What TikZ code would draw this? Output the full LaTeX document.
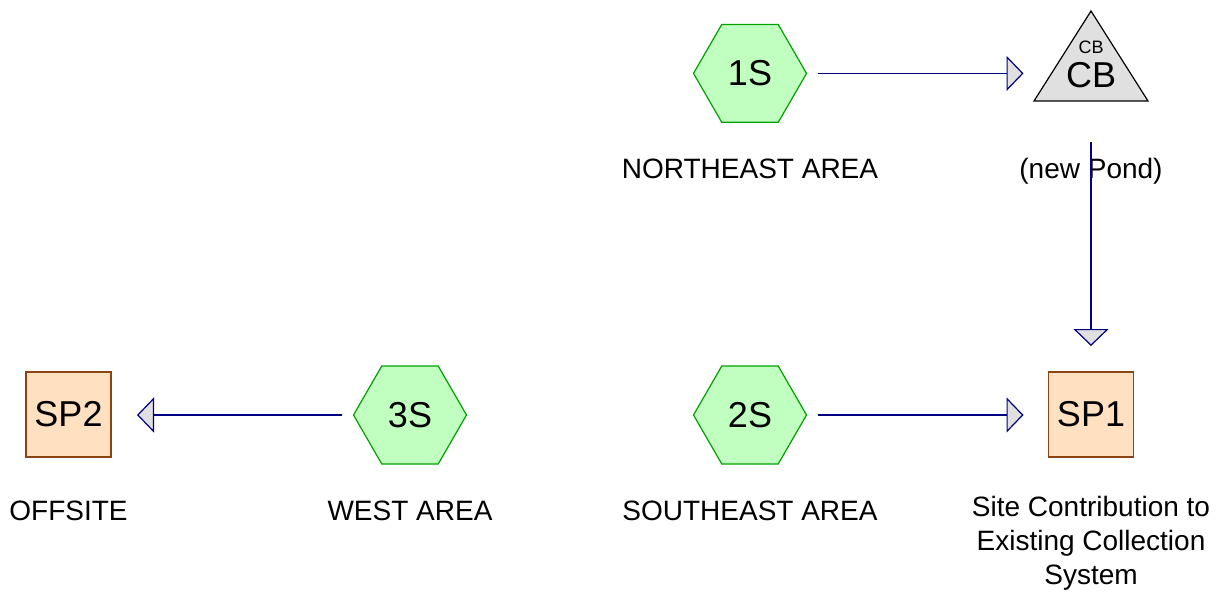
\documentclass[tikz,border=0pt]{standalone}
\usepackage{fontspec}
\setmainfont{Liberation Sans}
\usetikzlibrary{shapes.geometric,arrows.meta}
\definecolor{hexfill}{HTML}{C0FFC0}
\definecolor{hexdraw}{HTML}{00A000}
\definecolor{boxfill}{HTML}{FFE0C0}
\definecolor{boxdraw}{HTML}{8B4513}
\definecolor{tipfill}{HTML}{E0E0E0}
\definecolor{linkcol}{HTML}{000080}
\tikzset{
  hexnode/.style={regular polygon, regular polygon sides=6, minimum size=113pt, inner sep=0pt, outer sep=0pt,
    fill=hexfill, draw=hexdraw, line width=1.2pt, font=\fontsize{36}{40}\selectfont},
  boxnode/.style={rectangle, minimum width=85pt, minimum height=85pt, inner sep=0pt, outer sep=0pt,
    fill=boxfill, draw=boxdraw, line width=1.4pt, font=\fontsize{36}{40}\selectfont},
  triframe/.style={rectangle, minimum width=114pt, minimum height=90pt, inner sep=0pt, outer sep=0pt},
  tridraw/.style={fill=tipfill, draw=black, line width=1.2pt, line join=miter},
  lbl/.style={anchor=base, inner sep=0pt, align=center, font=\fontsize{28}{34}\selectfont},
  link/.style={draw=linkcol, line width=1.2pt, -{Triangle[length=17pt, width=35pt, fill=tipfill]}},
}
\begin{document}
\begin{tikzpicture}[x=1pt, y=-1pt]
\useasboundingbox (0,0) rectangle (1225,598);
\node[hexnode] (n1S) at (750,73.4) {1S};
\node[hexnode] (n2S) at (750,415) {2S};
\node[hexnode] (n3S) at (410,415) {3S};
\node[triframe] (cb) at (1091,56) {};
\draw[tridraw] (cb.south west) -- (cb.north) -- (cb.south east) -- cycle;
\node[inner sep=0pt, font=\fontsize{18}{20}\selectfont] (cbsmall) at (1091,47) {CB};
\node[inner sep=0pt, font=\fontsize{36}{40}\selectfont] (cbbig) at (1091,75) {CB};
\node[boxnode] (sp1) at (1091,414.5) {SP1};
\node[boxnode] (sp2) at (68.5,414.5) {SP2};

\node[lbl] (l1S) at (750,178) {NORTHEAST AREA};
\node[lbl] (lcb) at (1091,178) {(new Pond)};
\node[lbl] (l2S) at (750,520) {SOUTHEAST AREA};
\node[lbl] (l3S) at (410,520) {WEST AREA};
\node[lbl] (lsp2) at (68.5,520) {OFFSITE};
\node[lbl, anchor=north] (lsp1) at (1091,496) {Site Contribution to\\Existing Collection\\System};

\draw[link, shorten <=11pt, shorten >=25pt] (n1S.east) -- (n1S.east -| sp1.west);
\draw[link, shorten <=41pt, shorten >=26pt] (cb.south) -- (sp1.north);
\draw[link, shorten <=11pt, shorten >=25pt] (n2S.east) -- (n2S.east -| sp1.west);
\draw[link, shorten <=11.5pt, shorten >=26pt] (n3S.west) -- (n3S.west -| sp2.east);
\end{tikzpicture}
\end{document}
